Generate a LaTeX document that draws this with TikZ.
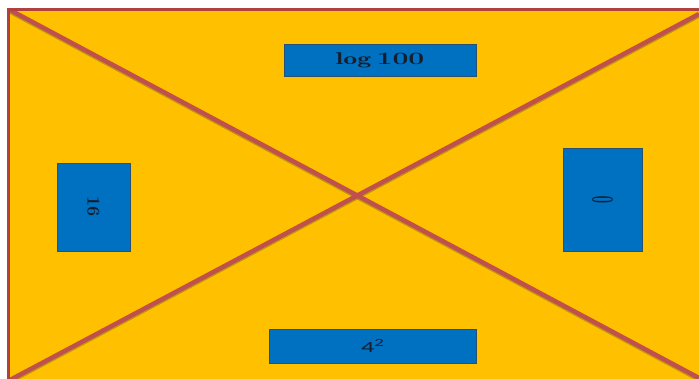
\documentclass[tikz,border=0pt]{standalone}
\usepackage{graphicx}
\usepackage{fontspec}
\newfontfamily\carlito{Carlito}
\definecolor{bgyellow}{RGB}{255,192,0}
\definecolor{diagred}{RGB}{192,80,77}
\definecolor{edgered}{RGB}{175,65,62}
\definecolor{shadowol}{RGB}{150,125,20}
\definecolor{boxblue}{RGB}{0,112,192}
\definecolor{boxedge}{RGB}{40,80,115}
\definecolor{txt}{RGB}{20,30,45}
\tikzset{
  bluebox/.style={draw=boxedge, line width=0.8pt, fill=boxblue, inner sep=0pt, text=txt},
  diag/.style={draw=diagred, line width=4.5pt},
  diagshadow/.style={draw=shadowol, line width=4.5pt, opacity=0.6},
}
\begin{document}
\begin{tikzpicture}[x=1pt,y=-1pt]
\useasboundingbox (0,0) rectangle (699,379);
\fill[bgyellow] (8,9) rectangle (699,379);
\begin{scope}
  \clip (8,9) rectangle (699,379);
  \coordinate (tl) at (10,10);
  \coordinate (br) at (699,378);
  \coordinate (bl) at (10,380);
  \coordinate (tr) at (699,14);
  \draw[diagshadow] ([yshift=-1.5pt]tl) -- ([yshift=-1.5pt]br);
  \draw[diagshadow] ([yshift=-1.5pt]bl) -- ([yshift=-1.5pt]tr);
  \draw[diag] (tl) -- (br);
  \draw[diag] (bl) -- (tr);
\end{scope}
\coordinate (c1) at (8.5,9.5);
\coordinate (c2) at (699,9.5);
\coordinate (c3) at (8.5,379);
\draw[edgered, line width=2.5pt] (c3) -- (c1) -- (c2);

\node[bluebox, minimum width=192pt, minimum height=32pt] (top) at (380,60)
  {\scalebox{1.64}[1]{\fontsize{17}{17}\selectfont\boldmath$\log 100$}};
\node[bluebox, minimum width=73pt, minimum height=88pt] (left) at (93.5,207)
  {\rotatebox{-90}{\fontsize{18}{18}\selectfont\bfseries 16}};
\node[bluebox, minimum width=79pt, minimum height=103pt] (right) at (602.5,199.5)
  {\scalebox{2.4}[1]{\rotatebox{90}{\fontsize{13}{13}\selectfont\bfseries 0}}};
\node[bluebox, minimum width=207pt, minimum height=34pt] (bottom) at (372.5,346)
  {\scalebox{1.7}[1]{\fontsize{15.5}{15.5}\selectfont\carlito 4\raisebox{0.42em}{\fontsize{11}{11}\selectfont 2}}};
\end{tikzpicture}
\end{document}
